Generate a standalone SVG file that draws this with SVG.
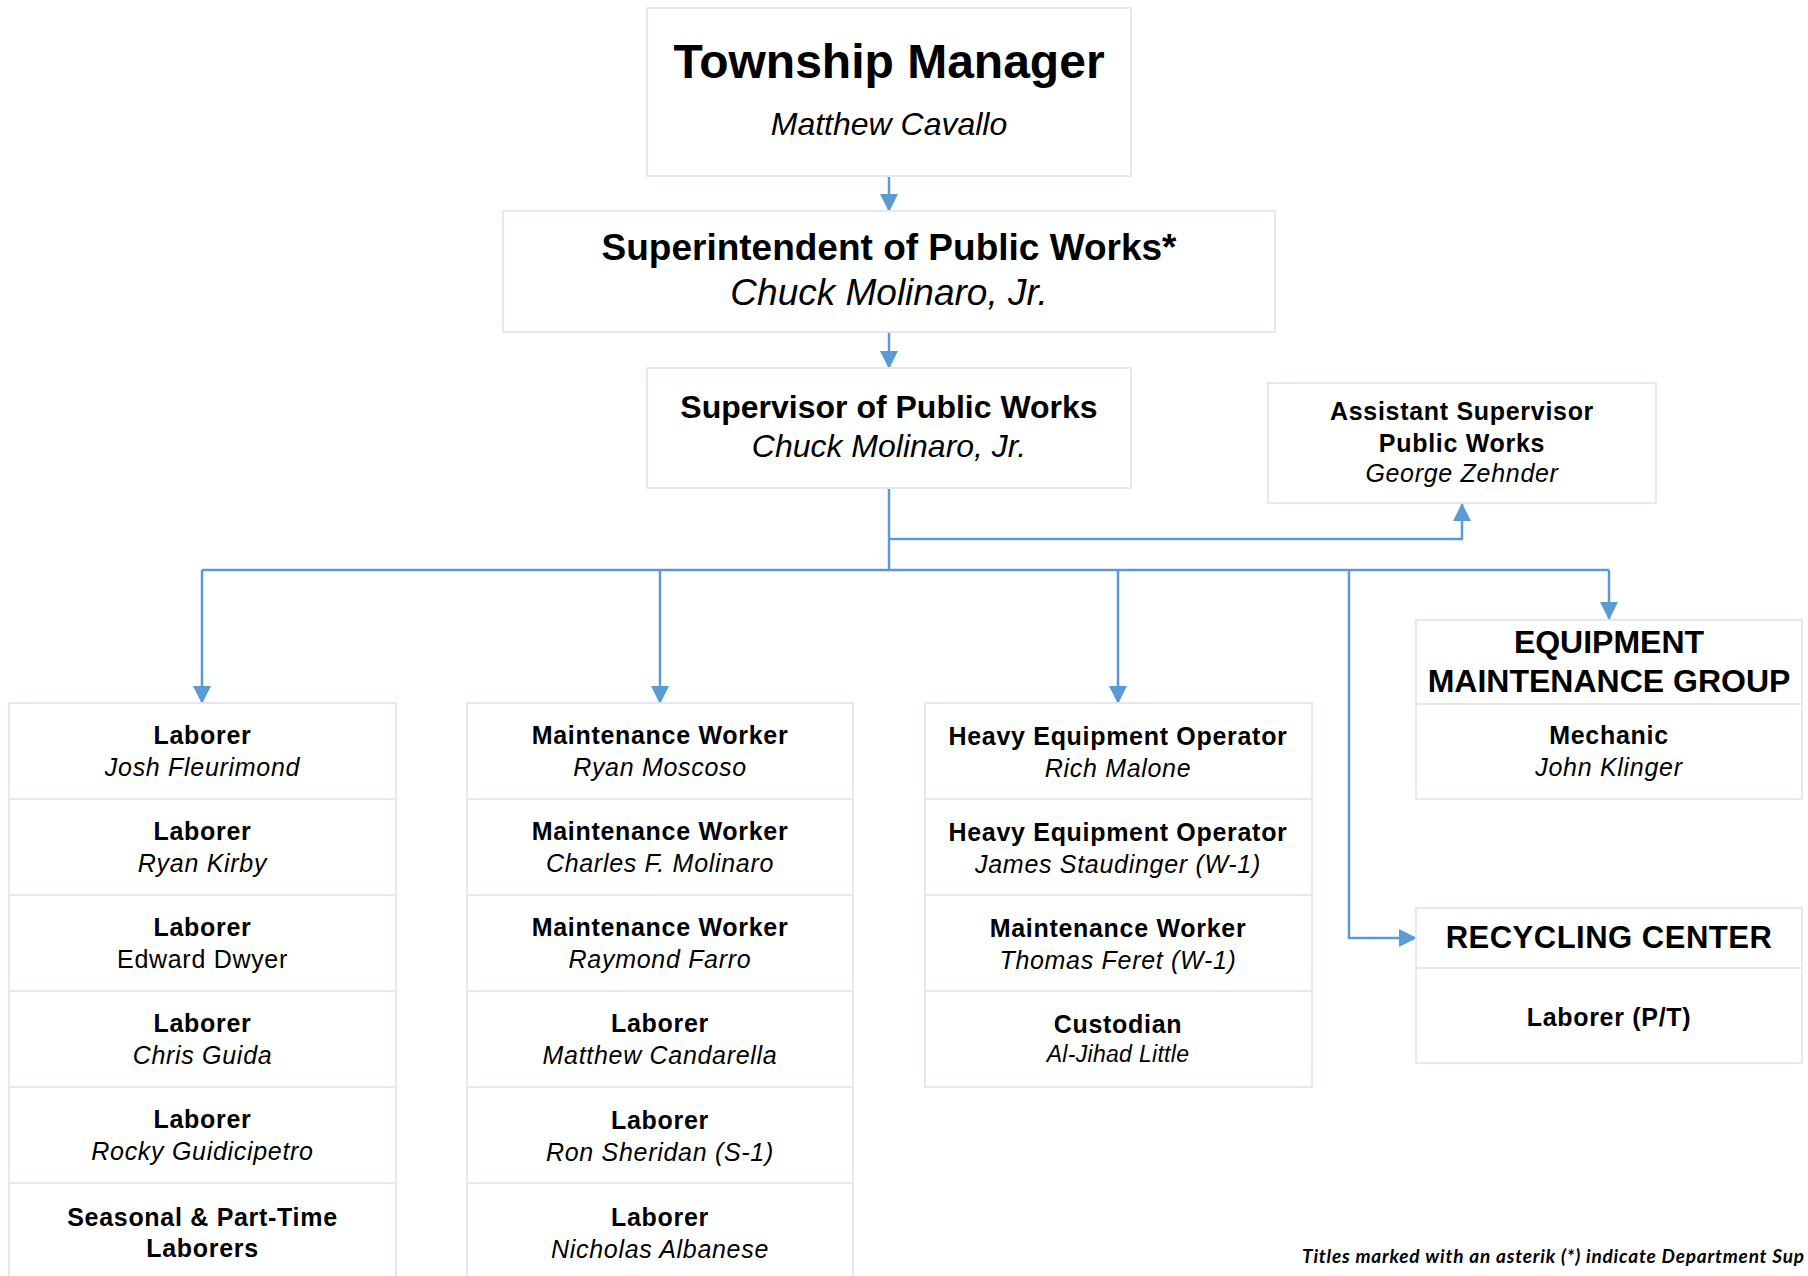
<svg xmlns="http://www.w3.org/2000/svg" width="1808" height="1276" viewBox="0 0 1808 1276">
<style>
.box{fill:#ffffff;stroke:#E3E9F3;stroke-width:2}
.t{font-family:"Liberation Sans",Arial,sans-serif;font-weight:bold;fill:#000;text-anchor:middle}
.n{font-family:"Liberation Sans",Arial,sans-serif;font-style:italic;fill:#000;text-anchor:middle}
.r{font-family:"Liberation Sans",Arial,sans-serif;fill:#000;text-anchor:middle}
.s{font-size:25px;letter-spacing:0.7px}
.c{fill:none;stroke:#5B9BD5;stroke-width:2.5}
.foot{font-family:Lato,"Open Sans",sans-serif;font-weight:bold;font-style:italic;font-size:19px;fill:#000}
</style>
<defs>
<marker id="arr" markerUnits="userSpaceOnUse" markerWidth="18" markerHeight="18" viewBox="0 0 18 18" refX="17" refY="9" orient="auto">
<path d="M0,0 L18,9 L0,18 z" fill="#5B9BD5"/>
</marker>
</defs>
<rect width="1808" height="1276" fill="#ffffff"/>

<g id="connectors">
<line class="c" x1="889" y1="176" x2="889" y2="211" marker-end="url(#arr)"/>
<line class="c" x1="889" y1="332" x2="889" y2="368" marker-end="url(#arr)"/>
<line class="c" x1="889" y1="488" x2="889" y2="571"/>
<path class="c" d="M889,539 H1462 V504" marker-end="url(#arr)"/>
<path class="c" d="M202,570 H1609"/>
<path class="c" d="M202,570 V703" marker-end="url(#arr)"/>
<path class="c" d="M660,570 V703" marker-end="url(#arr)"/>
<path class="c" d="M1118,570 V703" marker-end="url(#arr)"/>
<path class="c" d="M1609,570 V619" marker-end="url(#arr)"/>
<path class="c" d="M1349,570 V938 H1416" marker-end="url(#arr)"/>
</g>

<g id="township-manager">
<rect class="box" x="647" y="8" width="484" height="168"/>
<text class="t" x="889" y="78" font-size="48">Township Manager</text>
<text class="n" x="889" y="135" font-size="32">Matthew Cavallo</text>
</g>

<g id="superintendent">
<rect class="box" x="503" y="211" width="772" height="121"/>
<text class="t" x="889" y="260" font-size="37">Superintendent of Public Works*</text>
<text class="n" x="889" y="305" font-size="37">Chuck Molinaro, Jr.</text>
</g>

<g id="supervisor">
<rect class="box" x="647" y="368" width="484" height="120"/>
<text class="t" x="889" y="418" font-size="32">Supervisor of Public Works</text>
<text class="n" x="889" y="457" font-size="32">Chuck Molinaro, Jr.</text>
</g>

<g id="assistant-supervisor">
<rect class="box" x="1268" y="383" width="388" height="120"/>
<text class="t s" x="1462" y="420">Assistant Supervisor</text>
<text class="t s" x="1462" y="452">Public Works</text>
<text class="n s" x="1462" y="482">George Zehnder</text>
</g>

<g id="column-laborers">
<rect class="box" x="9" y="703" width="387" height="96"/>
<rect class="box" x="9" y="799" width="387" height="96"/>
<rect class="box" x="9" y="895" width="387" height="96"/>
<rect class="box" x="9" y="991" width="387" height="96"/>
<rect class="box" x="9" y="1087" width="387" height="96"/>
<rect class="box" x="9" y="1183" width="387" height="100"/>
<text class="t s" x="202.5" y="744">Laborer</text>
<text class="n s" x="202.5" y="776">Josh Fleurimond</text>
<text class="t s" x="202.5" y="840">Laborer</text>
<text class="n s" x="202.5" y="872">Ryan Kirby</text>
<text class="t s" x="202.5" y="936">Laborer</text>
<text class="r s" x="202.5" y="968">Edward Dwyer</text>
<text class="t s" x="202.5" y="1032">Laborer</text>
<text class="n s" x="202.5" y="1064">Chris Guida</text>
<text class="t s" x="202.5" y="1128">Laborer</text>
<text class="n s" x="202.5" y="1160">Rocky Guidicipetro</text>
<text class="t s" x="202.5" y="1226">Seasonal &amp; Part-Time</text>
<text class="t s" x="202.5" y="1257">Laborers</text>
</g>

<g id="column-maintenance">
<rect class="box" x="467" y="703" width="386" height="96"/>
<rect class="box" x="467" y="799" width="386" height="96"/>
<rect class="box" x="467" y="895" width="386" height="96"/>
<rect class="box" x="467" y="991" width="386" height="96"/>
<rect class="box" x="467" y="1087" width="386" height="96"/>
<rect class="box" x="467" y="1183" width="386" height="100"/>
<text class="t s" x="660" y="744">Maintenance Worker</text>
<text class="n s" x="660" y="776">Ryan Moscoso</text>
<text class="t s" x="660" y="840">Maintenance Worker</text>
<text class="n s" x="660" y="872">Charles F. Molinaro</text>
<text class="t s" x="660" y="936">Maintenance Worker</text>
<text class="n s" x="660" y="968">Raymond Farro</text>
<text class="t s" x="660" y="1032">Laborer</text>
<text class="n s" x="660" y="1064">Matthew Candarella</text>
<text class="t s" x="660" y="1129">Laborer</text>
<text class="n s" x="660" y="1161">Ron Sheridan (S-1)</text>
<text class="t s" x="660" y="1226">Laborer</text>
<text class="n s" x="660" y="1258">Nicholas Albanese</text>
</g>

<g id="column-operators">
<rect class="box" x="925" y="703" width="387" height="96"/>
<rect class="box" x="925" y="799" width="387" height="96"/>
<rect class="box" x="925" y="895" width="387" height="96"/>
<rect class="box" x="925" y="991" width="387" height="96"/>
<text class="t s" x="1118" y="745">Heavy Equipment Operator</text>
<text class="n s" x="1118" y="777">Rich Malone</text>
<text class="t s" x="1118" y="841">Heavy Equipment Operator</text>
<text class="n s" x="1118" y="873">James Staudinger (W-1)</text>
<text class="t s" x="1118" y="937">Maintenance Worker</text>
<text class="n s" x="1118" y="969">Thomas Feret (W-1)</text>
<text class="t s" x="1118" y="1033">Custodian</text>
<text class="n" x="1118" y="1062" font-size="23" letter-spacing="0.3">Al-Jihad Little</text>
</g>

<g id="equipment-maintenance-group">
<rect class="box" x="1416" y="620" width="386" height="84"/>
<rect class="box" x="1416" y="704" width="386" height="95"/>
<text class="t" x="1609" y="653" font-size="32">EQUIPMENT</text>
<text class="t" x="1609" y="692" font-size="32">MAINTENANCE GROUP</text>
<text class="t s" x="1609" y="744">Mechanic</text>
<text class="n s" x="1609" y="776">John Klinger</text>
</g>

<g id="recycling-center">
<rect class="box" x="1416" y="908" width="386" height="60"/>
<rect class="box" x="1416" y="968" width="386" height="95"/>
<text class="t" x="1609" y="948" font-size="31" letter-spacing="0.5">RECYCLING CENTER</text>
<text class="t s" x="1609" y="1026">Laborer (P/T)</text>
</g>

<text class="foot" x="1302" y="1263" textLength="502" lengthAdjust="spacing">Titles marked with an asterik (*) indicate Department Sup</text>
</svg>
